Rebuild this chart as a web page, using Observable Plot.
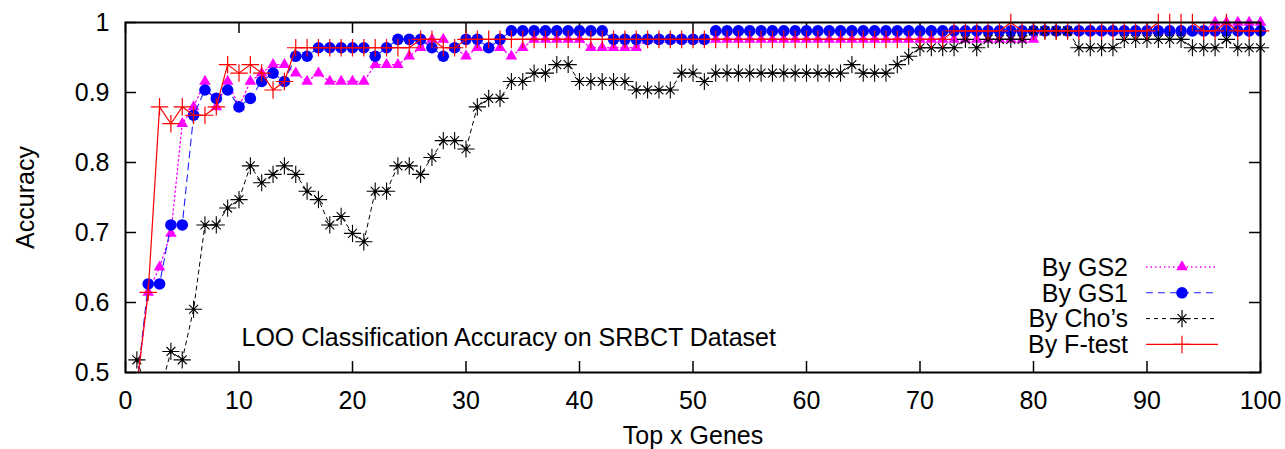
<!DOCTYPE html>
<html><head><meta charset="utf-8">
<script src="https://cdn.jsdelivr.net/npm/d3@7"></script>
<script src="https://cdn.jsdelivr.net/npm/@observablehq/plot@0.6"></script>
<style>body{margin:0;background:#fff;}</style>
</head><body><div id="chart"></div>
<script>
const genes = d3.range(1, 101);
const xTicks = [0, 10, 20, 30, 40, 50, 60, 70, 80, 90, 100];
const yTicks = [0.5, 0.6, 0.7, 0.8, 0.9, 1.0];
const seriesNames = ["By GS2", "By GS1", "By Cho\u2019s", "By F-test"];
const annotation = "LOO Classification Accuracy on SRBCT Dataset";

const gs2 = [
0.4819,0.6145,0.6506,0.6988,0.8554,0.8795,0.9157,0.8795,0.9157,0.8795,
0.9157,0.9277,0.9398,0.9398,0.9277,0.9157,0.9277,0.9157,0.9157,0.9157,
0.9157,0.9398,0.9398,0.9398,0.9518,0.9639,0.9759,0.9759,0.9639,0.9518,
0.9639,0.9639,0.9639,0.9518,0.9639,0.9759,0.9759,0.9759,0.9759,0.9759,
0.9639,0.9639,0.9639,0.9639,0.9639,0.9759,0.9759,0.9759,0.9759,0.9759,
0.9759,0.9759,0.9759,0.9759,0.9759,0.9759,0.9759,0.9759,0.9759,0.9759,
0.9759,0.9759,0.9759,0.9759,0.9759,0.9759,0.9759,0.9759,0.9759,0.9759,
0.9759,0.9759,0.9759,0.9759,0.9759,0.9759,0.9759,0.9759,0.9759,0.9759,
0.9880,0.9880,0.9880,0.9880,0.9880,0.9880,0.9880,0.9880,0.9880,0.9880,
0.9880,0.9880,0.9880,0.9880,0.9880,1.0000,1.0000,1.0000,1.0000,1.0000];

const gs1 = [
0.4819,0.6265,0.6265,0.7108,0.7108,0.8675,0.9036,0.8916,0.9036,0.8795,
0.8916,0.9157,0.9277,0.9157,0.9518,0.9518,0.9639,0.9639,0.9639,0.9639,
0.9639,0.9518,0.9639,0.9759,0.9759,0.9759,0.9639,0.9518,0.9639,0.9759,
0.9759,0.9639,0.9759,0.9880,0.9880,0.9880,0.9880,0.9880,0.9880,0.9880,
0.9880,0.9880,0.9759,0.9759,0.9759,0.9759,0.9759,0.9759,0.9759,0.9759,
0.9759,0.9880,0.9880,0.9880,0.9880,0.9880,0.9880,0.9880,0.9880,0.9880,
0.9880,0.9880,0.9880,0.9880,0.9880,0.9880,0.9880,0.9880,0.9880,0.9880,
0.9880,0.9880,0.9880,0.9880,0.9880,0.9880,0.9880,0.9880,0.9880,0.9880,
0.9880,0.9880,0.9880,0.9880,0.9880,0.9880,0.9880,0.9880,0.9880,0.9880,
0.9880,0.9880,0.9880,0.9880,0.9880,0.9880,0.9880,0.9880,0.9880,0.9880];

const cho = [
0.5181,0.4699,0.4699,0.5301,0.5181,0.5904,0.7108,0.7108,0.7349,0.7470,
0.7952,0.7711,0.7831,0.7952,0.7831,0.7590,0.7470,0.7108,0.7229,0.6988,
0.6867,0.7590,0.7590,0.7952,0.7952,0.7831,0.8072,0.8313,0.8313,0.8193,
0.8795,0.8916,0.8916,0.9157,0.9157,0.9277,0.9277,0.9398,0.9398,0.9157,
0.9157,0.9157,0.9157,0.9157,0.9036,0.9036,0.9036,0.9036,0.9277,0.9277,
0.9157,0.9277,0.9277,0.9277,0.9277,0.9277,0.9277,0.9277,0.9277,0.9277,
0.9277,0.9277,0.9277,0.9398,0.9277,0.9277,0.9277,0.9398,0.9518,0.9639,
0.9639,0.9639,0.9639,0.9759,0.9639,0.9759,0.9759,0.9759,0.9759,0.9880,
0.9880,0.9880,0.9880,0.9639,0.9639,0.9639,0.9639,0.9759,0.9759,0.9759,
0.9759,0.9759,0.9759,0.9639,0.9639,0.9639,0.9759,0.9639,0.9639,0.9639];

const ftest = [
0.4819,0.6145,0.8795,0.8554,0.8795,0.8675,0.8675,0.8795,0.9398,0.9277,
0.9398,0.9277,0.9036,0.9157,0.9639,0.9639,0.9639,0.9639,0.9639,0.9639,
0.9639,0.9639,0.9639,0.9639,0.9639,0.9759,0.9759,0.9639,0.9639,0.9759,
0.9759,0.9759,0.9759,0.9759,0.9759,0.9759,0.9759,0.9759,0.9759,0.9759,
0.9759,0.9759,0.9759,0.9759,0.9759,0.9759,0.9759,0.9759,0.9759,0.9759,
0.9759,0.9759,0.9759,0.9759,0.9759,0.9759,0.9759,0.9759,0.9759,0.9759,
0.9759,0.9759,0.9759,0.9759,0.9759,0.9759,0.9759,0.9759,0.9759,0.9759,
0.9759,0.9759,0.9880,0.9880,0.9880,0.9880,0.9880,1.0000,0.9880,0.9880,
0.9880,0.9880,0.9880,0.9880,0.9880,0.9880,0.9880,0.9880,0.9880,0.9880,
1.0000,1.0000,1.0000,1.0000,0.9880,0.9880,1.0000,0.9880,0.9880,0.9880];

const FONT = "'Liberation Sans', Arial, Helvetica, sans-serif";
const FS = 25;
const rows = v => genes.map((g, i) => ({x: g, y: v[i]}));
const vis = v => rows(v).filter(d => d.y >= 0.5);

const W = 1285, H = 449, mL = 125, mR = 25, mT = 22, mB = 77;
const pw = W - mL - mR, ph = H - mT - mB, tl = 11;

const chart = Plot.plot({
  width: W, height: H,
  marginLeft: mL, marginRight: mR, marginTop: mT, marginBottom: mB,
  style: {fontFamily: FONT, fontSize: FS + "px", background: "#fff", color: "#000"},
  x: {domain: [0, 100]},
  y: {domain: [0.5, 1]},
  marks: [
    Plot.axisX({ticks: xTicks, tickSize: 0, tickPadding: 19, label: null, fontSize: FS, tickFormat: d => String(d)}),
    Plot.axisY({ticks: yTicks, tickSize: 0, tickPadding: 16, label: null, fontSize: FS, tickFormat: d => String(+d.toFixed(1))}),
    // inward ticks (gnuplot style, mirrored)
    Plot.tickX(xTicks, {x: d => d, insetTop: ph - tl, stroke: "#000", strokeWidth: 1.5}),
    Plot.tickX(xTicks, {x: d => d, insetBottom: ph - tl, stroke: "#000", strokeWidth: 1.5}),
    Plot.tickY(yTicks, {y: d => d, insetRight: pw - tl, stroke: "#000", strokeWidth: 1.5}),
    Plot.tickY(yTicks, {y: d => d, insetLeft: pw - tl, stroke: "#000", strokeWidth: 1.5}),
    // GS2
    Plot.line(rows(gs2), {x: "x", y: "y", stroke: "#ff00ff", strokeWidth: 1.3, strokeDasharray: "1.5,3", clip: true}),
    Plot.dot(vis(gs2), {x: "x", y: "y", symbol: "triangle", r: 4.3, fill: "#ff00ff", stroke: "none"}),
    // GS1
    Plot.line(rows(gs1), {x: "x", y: "y", stroke: "#2020ff", strokeWidth: 1.1, strokeDasharray: "7,5", clip: true}),
    Plot.dot(vis(gs1), {x: "x", y: "y", r: 5.8, fill: "#0000ff", stroke: "none"}),
    // Cho's
    Plot.line(rows(cho), {x: "x", y: "y", stroke: "#000", strokeWidth: 1, strokeDasharray: "4,4", clip: true}),
    Plot.dot(vis(cho), {x: "x", y: "y", symbol: "plus", r: 5.6, stroke: "#000", strokeWidth: 1.1, fill: "none"}),
    Plot.dot(vis(cho), {x: "x", y: "y", symbol: "times", r: 4.1, stroke: "#000", strokeWidth: 1.1, fill: "none"}),
    Plot.dot(vis(cho), {x: "x", y: "y", r: 1.8, fill: "#000", stroke: "none"}),
    // F-test
    Plot.line(rows(ftest), {x: "x", y: "y", stroke: "#ff0000", strokeWidth: 1.2, clip: true}),
    Plot.dot(vis(ftest), {x: "x", y: "y", symbol: "plus", r: 5.7, stroke: "#ff0000", strokeWidth: 1.2, fill: "none"}),
    // frame
    Plot.frame({stroke: "#000", strokeWidth: 2}),
    // texts
    Plot.text([annotation], {text: d => d, frameAnchor: "bottom-left", dx: 116, dy: -35, textAnchor: "start", lineAnchor: "middle", fontSize: FS}),
    Plot.text(["Accuracy"], {text: d => d, frameAnchor: "left", dx: -100, rotate: -90, textAnchor: "middle", lineAnchor: "middle", fontSize: FS}),
    Plot.text(["Top x Genes"], {text: d => d, frameAnchor: "bottom", dy: 63, textAnchor: "middle", lineAnchor: "middle", fontSize: FS})
  ]
});
document.getElementById("chart").appendChild(chart);

// Legend (inside the plot, gnuplot style)
const svg = d3.select(chart);
const lg = svg.append("g").attr("font-family", FONT).attr("font-size", FS);
const legendSpecs = [
  {stroke: "#ff00ff", dash: "1.5,3", width: 1.3, syms: [{type: d3.symbolTriangle, r: 4.3, fill: "#ff00ff"}]},
  {stroke: "#2020ff", dash: "7,5", width: 1.1, syms: [{type: d3.symbolCircle, r: 5.8, fill: "#0000ff"}]},
  {stroke: "#000", dash: "4,4", width: 1, syms: [{type: d3.symbolPlus, r: 5.6, stroke: "#000"}, {type: d3.symbolTimes, r: 4.1, stroke: "#000"}]},
  {stroke: "#ff0000", dash: null, width: 1.2, syms: [{type: d3.symbolPlus, r: 5.7, stroke: "#ff0000"}]}
];
const textRight = 1128, lx1 = 1146, lx2 = 1218, lmx = 1182, ly0 = 267, lstep = 25.8;
legendSpecs.forEach((s, i) => {
  const cy = ly0 + i * lstep;
  lg.append("text").attr("x", textRight).attr("y", cy).attr("dy", "0.35em")
    .attr("text-anchor", "end").attr("fill", "#000").text(seriesNames[i]);
  const ln = lg.append("line").attr("x1", lx1).attr("x2", lx2).attr("y1", cy).attr("y2", cy)
    .attr("stroke", s.stroke).attr("stroke-width", s.width);
  if (s.dash) ln.attr("stroke-dasharray", s.dash);
  s.syms.forEach(m => {
    lg.append("path").attr("transform", `translate(${lmx},${cy})`)
      .attr("d", d3.symbol().type(m.type).size(Math.PI * m.r * m.r)())
      .attr("fill", m.fill || "none").attr("stroke", m.stroke || "none").attr("stroke-width", 1.2);
  });
});
</script>
</body></html>
